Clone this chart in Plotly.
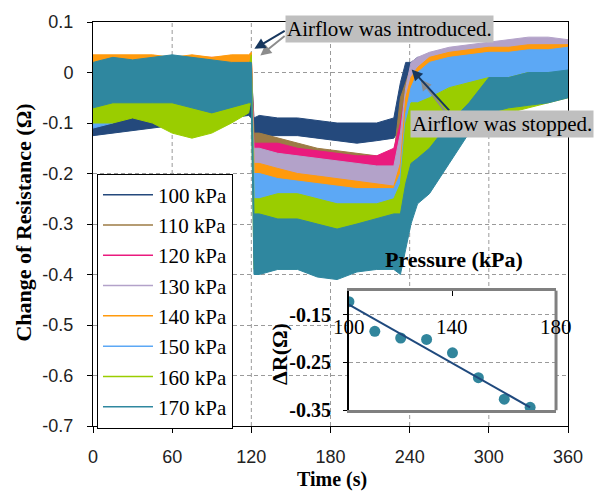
import plotly.graph_objects as go

# ---------------- data ----------------
time_s = [0, 15, 30, 45, 60, 75, 90, 105, 118, 120, 122, 126, 140, 155, 170, 185,
          200, 215, 228, 233, 237, 241, 246, 255, 270, 285, 300, 315, 330, 345, 360]

series_names = ["100 kPa", "110 kPa", "120 kPa", "130 kPa",
                "140 kPa", "150 kPa", "160 kPa", "170 kPa"]
series_colors = ["#24497C", "#9C7B45", "#EA1A7E", "#B3A2C9",
                 "#FF9A0D", "#5CA8F5", "#9ACD00", "#2F879F"]

hi_100 = [-0.08, -0.075, -0.07, -0.07, -0.065, -0.06, -0.055, -0.05, -0.045, 0.00, -0.09, -0.085, -0.09, -0.09, -0.095, -0.10,
          -0.10, -0.10, -0.09, -0.02, 0.02, 0.02, 0.03, 0.03, 0.03, 0.03, 0.03, 0.03, 0.03, 0.03, 0.03]
lo_100 = [-0.125, -0.12, -0.115, -0.11, -0.105, -0.10, -0.095, -0.09, -0.085, -0.09, -0.14, -0.125, -0.125, -0.125, -0.13, -0.135,
          -0.14, -0.135, -0.13, -0.11, -0.05, -0.03, -0.02, -0.02, -0.01, -0.01, -0.01, -0.01, -0.01, -0.01, -0.01]

hi_110 = [0.02, 0.02, 0.02, 0.02, 0.02, 0.02, 0.02, 0.02, 0.02, 0.03, -0.12, -0.12, -0.13, -0.14, -0.15, -0.155,
          -0.16, -0.165, -0.165, -0.05, -0.02, 0.01, 0.02, 0.025, 0.03, 0.03, 0.03, 0.03, 0.03, 0.03, 0.03]
lo_110 = [-0.03, -0.03, -0.03, -0.03, -0.03, -0.03, -0.03, -0.03, -0.03, -0.03, -0.18, -0.17, -0.17, -0.18, -0.19, -0.195,
          -0.20, -0.20, -0.20, -0.15, -0.08, -0.05, -0.03, -0.02, -0.02, -0.015, -0.01, -0.01, -0.01, -0.01, -0.01]

hi_120 = [0.03, 0.03, 0.03, 0.03, 0.03, 0.03, 0.03, 0.03, 0.03, 0.03, -0.14, -0.14, -0.14, -0.15, -0.155, -0.16,
          -0.165, -0.165, -0.15, -0.10, -0.04, -0.01, 0.01, 0.025, 0.03, 0.035, 0.035, 0.035, 0.035, 0.035, 0.035]
lo_120 = [-0.03, -0.03, -0.03, -0.03, -0.03, -0.03, -0.03, -0.03, -0.03, -0.03, -0.21, -0.20, -0.20, -0.205, -0.21, -0.215,
          -0.22, -0.22, -0.22, -0.20, -0.12, -0.07, -0.04, -0.03, -0.02, -0.02, -0.02, -0.015, -0.015, -0.01, -0.01]

hi_130 = [0.02, 0.02, 0.02, 0.02, 0.02, 0.02, 0.02, 0.02, 0.02, 0.02, -0.15, -0.15, -0.16, -0.165, -0.17, -0.175,
          -0.18, -0.185, -0.185, -0.12, -0.03, 0.02, 0.03, 0.04, 0.05, 0.055, 0.06, 0.065, 0.07, 0.07, 0.065]
lo_130 = [-0.03, -0.03, -0.03, -0.03, -0.03, -0.03, -0.03, -0.03, -0.03, -0.03, -0.22, -0.21, -0.21, -0.215, -0.22, -0.225,
          -0.23, -0.23, -0.235, -0.22, -0.12, -0.05, -0.03, -0.01, 0.0, 0.005, 0.01, 0.015, 0.02, 0.02, 0.02]

hi_140 = [0.035, 0.035, 0.035, 0.035, 0.03, 0.035, 0.03, 0.035, 0.035, 0.04, -0.18, -0.18, -0.19, -0.20, -0.205, -0.21,
          -0.215, -0.22, -0.225, -0.18, -0.05, -0.01, 0.01, 0.03, 0.04, 0.045, 0.05, 0.05, 0.055, 0.055, 0.055]
lo_140 = [-0.02, -0.02, -0.02, -0.02, -0.02, -0.02, -0.02, -0.02, -0.02, -0.02, -0.25, -0.24, -0.24, -0.25, -0.255, -0.26,
          -0.265, -0.27, -0.275, -0.27, -0.20, -0.10, -0.05, -0.03, -0.01, -0.005, 0.0, 0.005, 0.01, 0.01, 0.01]

hi_150 = [-0.05, -0.04, -0.01, 0.0, 0.01, 0.01, 0.01, 0.01, 0.02, 0.02, -0.20, -0.20, -0.21, -0.215, -0.22, -0.225,
          -0.23, -0.23, -0.23, -0.20, -0.08, -0.03, 0.0, 0.02, 0.03, 0.035, 0.04, 0.04, 0.045, 0.045, 0.05]
lo_150 = [-0.11, -0.10, -0.07, -0.05, -0.04, -0.04, -0.04, -0.04, -0.03, -0.03, -0.29, -0.28, -0.28, -0.285, -0.29, -0.295,
          -0.30, -0.30, -0.30, -0.30, -0.25, -0.15, -0.08, -0.05, -0.03, -0.02, -0.015, -0.01, -0.01, -0.005, 0.0]

hi_160 = [-0.01, -0.02, 0.0, 0.0, -0.01, -0.02, -0.01, 0.0, 0.01, 0.035, -0.25, -0.25, -0.24, -0.24, -0.25, -0.26,
          -0.26, -0.26, -0.25, -0.22, -0.10, -0.06, -0.06, -0.05, -0.03, -0.02, -0.01, -0.01, 0.0, 0.0, 0.0]
lo_160 = [-0.10, -0.10, -0.09, -0.10, -0.12, -0.13, -0.12, -0.10, -0.08, -0.05, -0.39, -0.38, -0.37, -0.37, -0.38, -0.38,
          -0.37, -0.36, -0.36, -0.36, -0.30, -0.22, -0.19, -0.16, -0.13, -0.11, -0.09, -0.08, -0.07, -0.06, -0.05]

hi_170 = [0.02, 0.03, 0.025, 0.03, 0.035, 0.03, 0.025, 0.02, 0.02, 0.02, -0.28, -0.28, -0.29, -0.29, -0.30, -0.31,
          -0.30, -0.29, -0.28, -0.28, -0.22, -0.18, -0.17, -0.15, -0.10, -0.06, -0.01, -0.01, 0.0, 0.0, 0.005]
lo_170 = [-0.07, -0.06, -0.06, -0.06, -0.06, -0.07, -0.08, -0.07, -0.06, -0.06, -0.40, -0.40, -0.39, -0.39, -0.405, -0.41,
          -0.395, -0.39, -0.39, -0.40, -0.35, -0.30, -0.26, -0.24, -0.18, -0.12, -0.08, -0.07, -0.065, -0.06, -0.05]

series_hi = [hi_100, hi_110, hi_120, hi_130, hi_140, hi_150, hi_160, hi_170]
series_lo = [lo_100, lo_110, lo_120, lo_130, lo_140, lo_150, lo_160, lo_170]

x_ticks = [0, 60, 120, 180, 240, 300, 360]
y_ticks = [0.1, 0.0, -0.1, -0.2, -0.3, -0.4, -0.5, -0.6, -0.7]
y_ticktext = ["0.1", "0", "-0.1", "-0.2", "-0.3", "-0.4", "-0.5", "-0.6", "-0.7"]

inset_pressure = [100, 110, 120, 130, 140, 150, 160, 170]
inset_dR = [-0.123, -0.185, -0.199, -0.202, -0.230, -0.282, -0.327, -0.344]
trend_pressure = [100, 170]
trend_dR = [-0.129, -0.344]
inset_x_ticks = [100, 140, 180]
inset_y_ticks = [-0.15, -0.25, -0.35]
inset_y_ticktext = ["-0.15", "-0.25", "-0.35"]
inset_x_range = [100, 180]
inset_y_range = [-0.35, -0.10]

SERIF = "Liberation Serif, Times New Roman, DejaVu Serif, serif"
SANS = "Liberation Sans, Arial, sans-serif"
GRID_COL = "#9A9A9A"
GRID_DASH = "4px,3px"

fig = go.Figure()

for name, col, hi, lo in zip(series_names, series_colors, series_hi, series_lo):
    fig.add_trace(go.Scatter(
        x=time_s + time_s[::-1], y=hi + lo[::-1],
        mode="lines", fill="toself", fillcolor=col,
        line=dict(color=col, width=1), showlegend=False, hoverinfo="skip",
        xaxis="x", yaxis="y"))

for name, col in zip(series_names, series_colors):
    fig.add_trace(go.Scatter(
        x=[None], y=[None], mode="lines", name=name,
        line=dict(color=col, width=1.5), xaxis="x", yaxis="y"))

fig.add_trace(go.Scatter(
    x=inset_pressure, y=inset_dR, mode="markers",
    marker=dict(color="#31859C", size=11), showlegend=False,
    xaxis="x2", yaxis="y2"))
fig.add_trace(go.Scatter(
    x=trend_pressure, y=trend_dR, mode="lines",
    line=dict(color="#1F497D", width=2), showlegend=False,
    xaxis="x2", yaxis="y2"))

annotations = []

for v in inset_x_ticks:
    annotations.append(dict(x=v, y=-0.175, xref="x2", yref="y2", text=str(v),
                            showarrow=False, font=dict(family=SERIF, size=21, color="black"),
                            xanchor="center", yanchor="middle"))

annotations.append(dict(x=0.503, y=-0.132, xref="paper", yref="paper",
                        text="<b>Time (s)</b>", showarrow=False,
                        font=dict(family=SERIF, size=20, color="black"),
                        xanchor="center", yanchor="middle"))
annotations.append(dict(x=-0.147, y=0.504, xref="paper", yref="paper",
                        text="<b>Change of Resistance (Ω)</b>", showarrow=False, textangle=-90,
                        font=dict(family=SERIF, size=22, color="black"),
                        xanchor="center", yanchor="middle"))
annotations.append(dict(x=0.761, y=0.411, xref="paper", yref="paper",
                        text="<b>Pressure (kPa)</b>", showarrow=False,
                        font=dict(family=SERIF, size=22, color="black"),
                        xanchor="center", yanchor="middle"))
annotations.append(dict(x=0.394, y=0.1785, xref="paper", yref="paper",
                        text="<b>ΔR(Ω)</b>", showarrow=False, textangle=-90,
                        font=dict(family=SERIF, size=22, color="black"),
                        xanchor="center", yanchor="middle"))

arrow_specs = [
    (126.8, 0.0335, 146.4, 0.0746, "#8C8C8C"),
    (122.3, 0.047, 146.4, 0.0843, "#17375E"),
    (248.3, -0.0135, 269.4, -0.086, "#8C8C8C"),
    (241.5, 0.006, 271.0, -0.078, "#17375E"),
]
for x_tip, y_tip, x_tail, y_tail, col in arrow_specs:
    annotations.append(dict(x=x_tip, y=y_tip, ax=x_tail, ay=y_tail,
                            xref="x", yref="y", axref="x", ayref="y",
                            text="", showarrow=True, arrowhead=2, arrowsize=1.1,
                            arrowwidth=2, arrowcolor=col, standoff=0, startstandoff=0))

annotations.append(dict(x=224.9, y=0.0853, xref="x", yref="y",
                        text="Airflow was introduced.", showarrow=False,
                        bgcolor="#BFBFBF", borderpad=1,
                        font=dict(family=SERIF, size=21, color="black"),
                        xanchor="center", yanchor="middle"))
annotations.append(dict(x=309.8, y=-0.1025, xref="x", yref="y",
                        text="Airflow was stopped.", showarrow=False,
                        bgcolor="#BFBFBF", borderpad=1,
                        font=dict(family=SERIF, size=21, color="black"),
                        xanchor="center", yanchor="middle"))

# vertical dashed grid lines of the main plot, at the x tick values
shapes = [dict(type="line", xref="x", yref="y domain", x0=v, x1=v, y0=0, y1=1,
               line=dict(color=GRID_COL, width=1, dash=GRID_DASH), layer="below")
          for v in x_ticks[1:-1]]
# right edge of the inset frame
shapes.append(dict(type="line", xref="x2 domain", yref="y2 domain", x0=1, x1=1, y0=0, y1=1,
                   line=dict(color="#808080", width=3), layer="above"))

fig.update_layout(
    width=595, height=492,
    margin=dict(l=93, r=25, t=17, b=66),
    paper_bgcolor="white", plot_bgcolor="white",
    showlegend=True,
    legend=dict(x=0.0084, y=0.625, xanchor="left", yanchor="top",
                bgcolor="white", bordercolor="black", borderwidth=1,
                font=dict(family=SERIF, size=21, color="black"),
                itemwidth=50, tracegroupgap=0),
    xaxis=dict(domain=[0, 1], range=[0, 360], tickvals=x_ticks,
               ticks="outside", ticklen=6, tickcolor="black",
               showline=True, linecolor="black", linewidth=1, mirror=True,
               showgrid=False,
               zeroline=False, tickfont=dict(family=SANS, size=18, color="#222222"),
               ticklabelstandoff=8),
    yaxis=dict(domain=[0, 1], range=[-0.7, 0.1], tickvals=y_ticks, ticktext=y_ticktext,
               ticks="outside", ticklen=5, tickcolor="black",
               showline=True, linecolor="black", linewidth=1, mirror=True,
               showgrid=True, gridcolor=GRID_COL, griddash=GRID_DASH, gridwidth=1,
               zeroline=False, tickfont=dict(family=SANS, size=18, color="#222222"),
               ticklabelstandoff=10),
    xaxis2=dict(domain=[0.5388, 0.9748], anchor="y2", range=inset_x_range, side="top",
                tickvals=inset_x_ticks, showticklabels=False,
                ticks="inside", ticklen=5, tickcolor="black",
                showline=True, linecolor="#808080", linewidth=3, mirror=True,
                showgrid=False, zeroline=False),
    yaxis2=dict(domain=[0.0391, 0.335], anchor="x2", range=inset_y_range,
                tickvals=inset_y_ticks, ticktext=inset_y_ticktext,
                ticks="outside", ticklen=4, tickcolor="black",
                showline=True, linecolor="black", linewidth=2, mirror=False,
                showgrid=True, gridcolor=GRID_COL, griddash=GRID_DASH, gridwidth=1,
                zeroline=False,
                tickfont=dict(family=SERIF, size=20, color="black", weight="bold"),
                ticklabelstandoff=8),
    annotations=annotations,
    shapes=shapes,
)

fig.write_html("out.html")
